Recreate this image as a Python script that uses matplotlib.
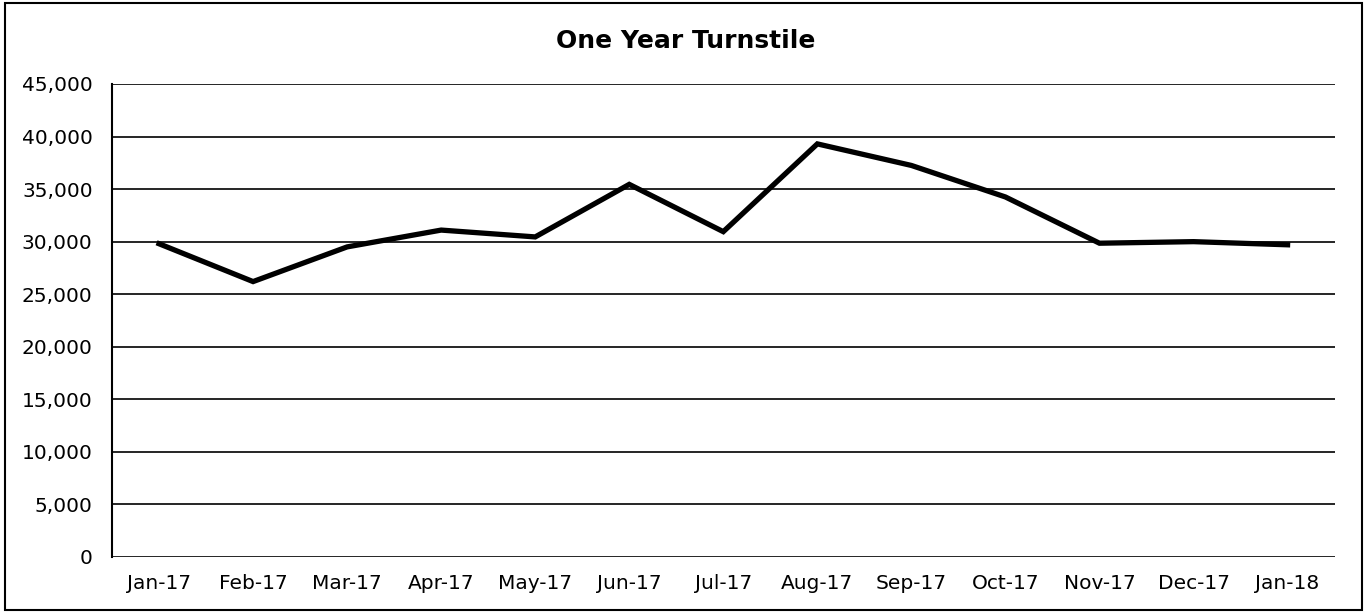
import matplotlib
matplotlib.use("Agg")
import matplotlib.pyplot as plt
from matplotlib.patches import Rectangle
from matplotlib.ticker import FuncFormatter

months = ['Jan-17', 'Feb-17', 'Mar-17', 'Apr-17', 'May-17', 'Jun-17', 'Jul-17',
          'Aug-17', 'Sep-17', 'Oct-17', 'Nov-17', 'Dec-17', 'Jan-18']
turnstile = [29800, 26200, 29500, 31100, 30450, 35450, 30950,
             39300, 37250, 34250, 29850, 30000, 29700]
y_ticks = list(range(0, 45001, 5000))

plt.rcParams['font.family'] = ['DejaVu Sans']

fig = plt.figure(figsize=(13.66, 6.13), dpi=100)
ax = fig.add_axes([0.082, 0.0914, 0.895, 0.7716])

x = range(len(months))
ax.plot(x, turnstile, color='black', linewidth=3.8, solid_joinstyle='miter')

ax.set_xlim(-0.5, len(months) - 0.5)
ax.set_ylim(0, 45000)
ax.set_yticks(y_ticks)
ax.yaxis.set_major_formatter(FuncFormatter(lambda v, p: '{:,.0f}'.format(v)))
ax.set_xticks(list(x))
ax.set_xticklabels(months)
ax.tick_params(axis='both', length=0, colors='black')
ax.tick_params(axis='y', pad=14, labelsize=14.5)
ax.tick_params(axis='x', pad=12, labelsize=14.5)

ax.grid(axis='y', color='black', linewidth=1.2)
ax.set_axisbelow(True)
for side in ['top', 'right', 'bottom']:
    ax.spines[side].set_visible(False)
ax.spines['left'].set_linewidth(1.5)

fig.text(0.502, 0.933, 'One Year Turnstile', ha='center', va='center',
         fontsize=18, fontweight='bold')

# outer chart border
fig.patches.append(Rectangle((0.004, 0.005), 0.993, 0.99, transform=fig.transFigure,
                             fill=False, edgecolor='black', linewidth=1.5))

plt.savefig('out.png', dpi=100)
